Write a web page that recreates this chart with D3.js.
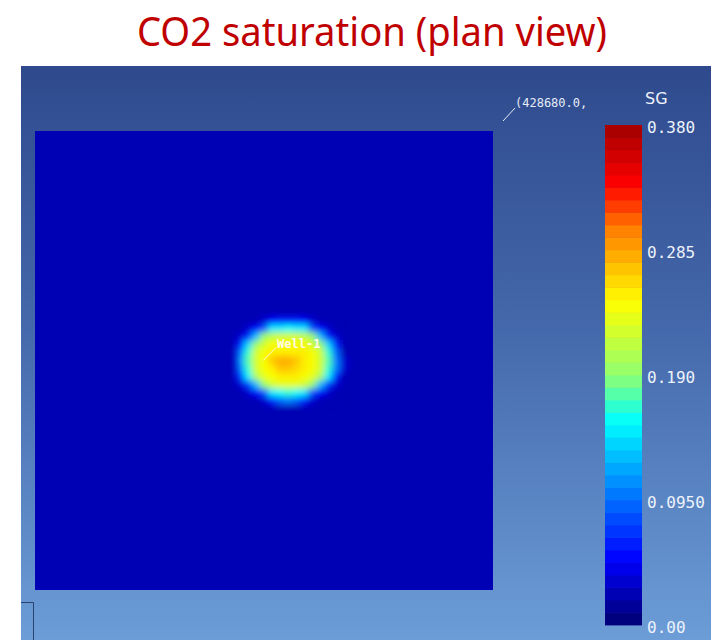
<head>
    <style>
        body { margin: 0; background: white; }
        svg { display: block; }
    </style>
</head>
<body>
    <div id = 'chart'></div>
    <script src = 'https://cdn.jsdelivr.net/npm/d3@7'></script>
    <script>
        var plume_col0 = 25,
            plume_row0 = 23;
        var sg_rows = [
            [0.025, 0.025, 0.025, 0.03, 0.05, 0.06, 0.06, 0.06, 0.05, 0.03, 0.025, 0.025, 0.025, 0.025],
            [0.025, 0.03, 0.05, 0.08, 0.15, 0.15, 0.16, 0.15, 0.15, 0.08, 0.05, 0.03, 0.025, 0.025],
            [0.03, 0.06, 0.13, 0.19, 0.215, 0.225, 0.225, 0.225, 0.215, 0.19, 0.13, 0.06, 0.03, 0.025],
            [0.06, 0.14, 0.19, 0.225, 0.24, 0.245, 0.245, 0.245, 0.24, 0.225, 0.19, 0.14, 0.06, 0.025],
            [0.10, 0.17, 0.22, 0.24, 0.25, 0.255, 0.255, 0.255, 0.25, 0.24, 0.22, 0.17, 0.09, 0.025],
            [0.11, 0.18, 0.225, 0.245, 0.27, 0.285, 0.285, 0.275, 0.255, 0.245, 0.225, 0.18, 0.10, 0.03],
            [0.10, 0.17, 0.22, 0.24, 0.255, 0.27, 0.27, 0.26, 0.25, 0.24, 0.22, 0.17, 0.10, 0.03],
            [0.07, 0.15, 0.20, 0.235, 0.245, 0.25, 0.25, 0.25, 0.245, 0.235, 0.20, 0.15, 0.06, 0.025],
            [0.03, 0.07, 0.13, 0.19, 0.22, 0.23, 0.23, 0.23, 0.22, 0.19, 0.13, 0.07, 0.03, 0.025],
            [0.025, 0.03, 0.05, 0.08, 0.15, 0.16, 0.17, 0.16, 0.15, 0.08, 0.05, 0.03, 0.025, 0.025],
            [0.025, 0.025, 0.025, 0.035, 0.06, 0.09, 0.10, 0.09, 0.06, 0.035, 0.025, 0.025, 0.025, 0.025],
            [0.025, 0.025, 0.025, 0.025, 0.025, 0.025, 0.025, 0.025, 0.025, 0.025, 0.025, 0.025, 0.025, 0.025]
        ];
        var sg_background = 0.025;
        var grid_size = 57;
        var sg_max = 0.38,
            n_bands = 40;
        var tick_values = [0.38, 0.285, 0.19, 0.095, 0];
        var tick_labels = ['0.380', '0.285', '0.190', '0.0950', '0.00'];
        var well_name = 'Well-1',
            well_col = 30,
            well_row = 28;
        var coord_label = '(428680.0,';

        var width = 711,
            height = 640;

        var jet = d3.scaleLinear()
            .domain([0, 0.05, 0.155, 0.19, 0.245, 0.3, 0.335, 0.38])
            .range(['#000070', '#0000ff', '#00ffff', '#90ff70', '#ffff00', '#ff8000', '#ff0000', '#a00000'])
            .clamp(true);

        var band_step = sg_max / n_bands;
        var bands = d3.range(n_bands).map(function(i){ return i * band_step; });
        var clr = d3.scaleQuantize()
            .domain([0, sg_max])
            .range(bands.map(function(b){ return jet(b + band_step / 2); }));

        var x_scale = d3.scaleLinear().domain([0, grid_size]).range([35, 493]);
        var y_scale = d3.scaleLinear().domain([0, grid_size]).range([131, 590]);
        var bar_scale = d3.scaleLinear().domain([0, sg_max]).range([625, 125]);

        var svg = d3.select('#chart').append('svg')
            .attr('width', width)
            .attr('height', height);

        var defs = svg.append('defs');
        var grad = defs.append('linearGradient')
            .attr('id', 'panel_grad')
            .attr('x1', 0).attr('y1', 0).attr('x2', 0).attr('y2', 1);
        grad.append('stop').attr('offset', '0%').attr('stop-color', '#2e4a8d');
        grad.append('stop').attr('offset', '45%').attr('stop-color', '#4468ab');
        grad.append('stop').attr('offset', '100%').attr('stop-color', '#6c9dd7');

        defs.append('filter')
            .attr('id', 'smooth')
            .attr('x', '-20%').attr('y', '-20%').attr('width', '140%').attr('height', '140%')
            .append('feGaussianBlur')
            .attr('stdDeviation', 3);

        svg.append('text')
            .attr('x', 372)
            .attr('y', 46)
            .attr('text-anchor', 'middle')
            .attr('font-family', 'Noto Sans, Open Sans, sans-serif')
            .attr('font-size', 40)
            .attr('textLength', 470)
            .attr('lengthAdjust', 'spacingAndGlyphs')
            .attr('fill', '#c00000')
            .text('CO2 saturation (plan view)');

        // simulator window
        svg.append('rect')
            .attr('x', 21).attr('y', 66)
            .attr('width', width - 21).attr('height', height - 66)
            .attr('fill', 'url(#panel_grad)');

        svg.append('path')
            .attr('d', 'M21,602.5H33.5V640')
            .attr('fill', 'none')
            .attr('stroke', '#2b426f')
            .attr('stroke-width', 1);

        svg.append('rect')
            .attr('x', x_scale(0)).attr('y', y_scale(0))
            .attr('width', x_scale(grid_size) - x_scale(0))
            .attr('height', y_scale(grid_size) - y_scale(0))
            .attr('fill', clr(sg_background));

        var cells = [];
        sg_rows.forEach(function(row, r){
            row.forEach(function(v, c){
                cells.push({col: plume_col0 + c, row: plume_row0 + r, sg: v});
            });
        });

        var cw = x_scale(1) - x_scale(0),
            ch = y_scale(1) - y_scale(0);

        svg.append('g')
            .attr('filter', 'url(#smooth)')
            .selectAll('rect')
            .data(cells)
            .enter().append('rect')
            .attr('x', function(d){ return x_scale(d.col); })
            .attr('y', function(d){ return y_scale(d.row); })
            .attr('width', cw + 0.5)
            .attr('height', ch + 0.5)
            .attr('fill', function(d){ return clr(d.sg); });

        // well label
        var wx = x_scale(well_col) - 13,
            wy = y_scale(well_row) + 4;
        svg.append('line')
            .attr('x1', wx).attr('y1', wy)
            .attr('x2', wx + 13).attr('y2', wy - 13)
            .attr('stroke', '#fff8e0')
            .attr('stroke-width', 1);
        svg.append('text')
            .attr('x', wx + 14)
            .attr('y', wy - 12)
            .attr('font-family', 'DejaVu Sans Mono, monospace')
            .attr('font-size', 12)
            .attr('font-weight', 'bold')
            .attr('fill', '#fffbe8')
            .text(well_name);

        // corner coordinate
        svg.append('line')
            .attr('x1', 503).attr('y1', 121)
            .attr('x2', 515).attr('y2', 108)
            .attr('stroke', '#e6ecf6')
            .attr('stroke-width', 1);
        svg.append('text')
            .attr('x', 515)
            .attr('y', 107)
            .attr('font-family', 'DejaVu Sans Mono, monospace')
            .attr('font-size', 12)
            .attr('fill', '#e6ecf6')
            .text(coord_label);

        // colour bar
        svg.append('g')
            .selectAll('rect')
            .data(bands)
            .enter().append('rect')
            .attr('x', 605)
            .attr('y', function(d){ return bar_scale(d + band_step); })
            .attr('width', 37)
            .attr('height', function(d){ return bar_scale(d) - bar_scale(d + band_step) + 0.4; })
            .attr('fill', function(d){ return clr(d + band_step / 2); });

        svg.append('text')
            .attr('x', 645)
            .attr('y', 104)
            .attr('font-family', 'DejaVu Sans, sans-serif')
            .attr('font-size', 16)
            .attr('fill', '#eef2fa')
            .text('SG');

        svg.append('g')
            .selectAll('text')
            .data(tick_values)
            .enter().append('text')
            .attr('x', 647)
            .attr('y', function(d){ return bar_scale(d) + 8; })
            .attr('font-family', 'DejaVu Sans Mono, monospace')
            .attr('font-size', 16)
            .attr('fill', '#eef2fa')
            .text(function(d, i){ return tick_labels[i]; });
    </script>
</body>
